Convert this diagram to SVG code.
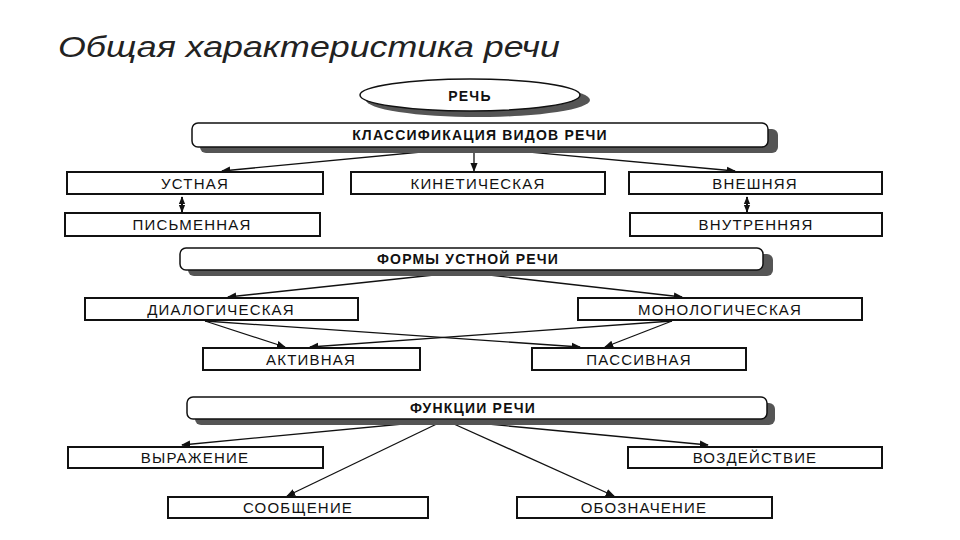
<svg xmlns="http://www.w3.org/2000/svg" width="960" height="540" viewBox="0 0 960 540">
<defs>
<style>
.box{fill:#fff;stroke:#111;stroke-width:2}
.bar{fill:#fff;stroke:#111;stroke-width:1.5}
.sh{fill:#555}
.t{font-family:"Liberation Sans",Arial,sans-serif;font-size:15px;fill:#111;text-anchor:middle;letter-spacing:1.2px}
.b{font-weight:bold;font-size:14px}
.ln{stroke:#111;stroke-width:1.3;fill:none;marker-end:url(#ah)}
.dl{stroke:#111;stroke-width:2;fill:none;marker-end:url(#as)}
</style>
<marker id="ah" viewBox="0 0 10 10" refX="9" refY="5" markerWidth="7" markerHeight="7" orient="auto"><path d="M0,1 L10,5 L0,9 z" fill="#111"/></marker>
<marker id="as" viewBox="0 0 10 10" refX="9" refY="5" markerWidth="4" markerHeight="4" orient="auto"><path d="M0,1 L10,5 L0,9 z" fill="#111"/></marker>
</defs>
<rect width="960" height="540" fill="#fff"/>
<text x="58" y="57" font-family="'Liberation Sans',Arial,sans-serif" font-style="italic" font-size="30" fill="#222" textLength="502" lengthAdjust="spacingAndGlyphs">Общая характеристика речи</text>
<g id="connectors">
<path class="ln" d="M474,147 L222,171"/>
<path class="ln" d="M474,147 L474,171"/>
<path class="ln" d="M474,147 L735,171"/>
<path class="dl" d="M182,204 L182,197"/>
<path class="dl" d="M182,204 L182,212"/>
<path class="dl" d="M747,204 L747,197"/>
<path class="dl" d="M747,204 L747,212"/>
<path class="ln" d="M462,272 L228,297"/>
<path class="ln" d="M462,272 L682,297"/>
<path class="ln" d="M205,321 L285,347"/>
<path class="ln" d="M205,321 L580,347"/>
<path class="ln" d="M672,321 L605,347"/>
<path class="ln" d="M672,321 L310,347"/>
<path class="ln" d="M445,420 L182,445"/>
<path class="ln" d="M445,420 L708,445"/>
<path class="ln" d="M445,420 L287,496"/>
<path class="ln" d="M445,420 L614,496"/>
</g>
<g id="rech"><ellipse class="sh" cx="478" cy="100" rx="112" ry="17"/><ellipse class="bar" cx="470" cy="95" rx="110" ry="16"/><text class="t b" x="470" y="101" font-size="16">РЕЧЬ</text></g>
<g id="klass"><rect class="sh" x="200" y="129" width="578" height="24" rx="6"/><rect class="bar" x="192" y="123" width="576" height="24" rx="6"/><text class="t b" x="480" y="140">КЛАССИФИКАЦИЯ ВИДОВ РЕЧИ</text></g>
<g id="ustnaya"><rect class="box" x="67" y="172" width="256" height="22"/><text class="t" x="195" y="189">УСТНАЯ</text></g>
<g id="kinet"><rect class="box" x="351" y="172" width="254" height="22"/><text class="t" x="478" y="189">КИНЕТИЧЕСКАЯ</text></g>
<g id="vnesh"><rect class="box" x="629" y="172" width="253" height="22"/><text class="t" x="755" y="189">ВНЕШНЯЯ</text></g>
<g id="pism"><rect class="box" x="65" y="213" width="255" height="23"/><text class="t" x="192" y="230">ПИСЬМЕННАЯ</text></g>
<g id="vnutr"><rect class="box" x="630" y="213" width="252" height="23"/><text class="t" x="756" y="230">ВНУТРЕННЯЯ</text></g>
<g id="formy"><rect class="sh" x="188" y="254" width="585" height="22" rx="6"/><rect class="bar" x="180" y="248" width="583" height="22" rx="6"/><text class="t b" x="468" y="264">ФОРМЫ УСТНОЙ РЕЧИ</text></g>
<g id="dialog"><rect class="box" x="85" y="298" width="273" height="22"/><text class="t" x="221" y="315">ДИАЛОГИЧЕСКАЯ</text></g>
<g id="monolog"><rect class="box" x="578" y="298" width="284" height="22"/><text class="t" x="720" y="315">МОНОЛОГИЧЕСКАЯ</text></g>
<g id="aktiv"><rect class="box" x="203" y="348" width="217" height="22"/><text class="t" x="311" y="365">АКТИВНАЯ</text></g>
<g id="passiv"><rect class="box" x="532" y="348" width="214" height="22"/><text class="t" x="639" y="365">ПАССИВНАЯ</text></g>
<g id="funk"><rect class="sh" x="195" y="403" width="580" height="22" rx="6"/><rect class="bar" x="187" y="397" width="580" height="22" rx="6"/><text class="t b" x="473" y="413">ФУНКЦИИ РЕЧИ</text></g>
<g id="vyraz"><rect class="box" x="68" y="447" width="255" height="21"/><text class="t" x="195" y="463">ВЫРАЖЕНИЕ</text></g>
<g id="vozd"><rect class="box" x="628" y="447" width="254" height="21"/><text class="t" x="755" y="463">ВОЗДЕЙСТВИЕ</text></g>
<g id="soob"><rect class="box" x="168" y="497" width="260" height="21"/><text class="t" x="298" y="513">СООБЩЕНИЕ</text></g>
<g id="oboz"><rect class="box" x="517" y="497" width="255" height="21"/><text class="t" x="644" y="513">ОБОЗНАЧЕНИЕ</text></g>
</svg>
